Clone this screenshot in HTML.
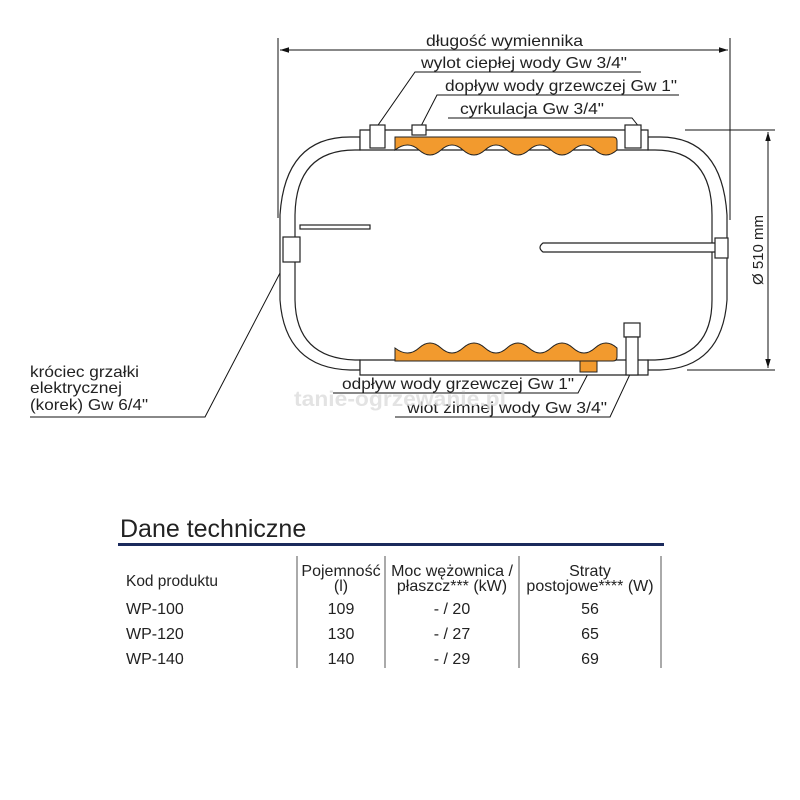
<!DOCTYPE html>
<html><head><meta charset="utf-8"><style>
body{margin:0;background:#fff}
svg{display:block}
text{font-family:"Liberation Sans",sans-serif;fill:#222}
</style></head><body>
<svg width="800" height="800" viewBox="0 0 800 800" xmlns="http://www.w3.org/2000/svg">
<defs>
<marker id="a" viewBox="0 0 10 10" refX="10" refY="5" markerWidth="9" markerHeight="9" orient="auto-start-reverse"><path d="M0,2 L10,5 L0,8z" fill="#111"/></marker>
</defs>
<g stroke="#111" stroke-width="1" fill="none">
<line x1="278" y1="38" x2="278" y2="218"/>
<line x1="730" y1="38" x2="730" y2="220"/>
<line x1="280" y1="50" x2="728" y2="50" marker-start="url(#a)" marker-end="url(#a)"/>
<line x1="685" y1="130" x2="775" y2="130"/>
<line x1="687" y1="370" x2="775" y2="370"/>
<line x1="768" y1="132" x2="768" y2="368" marker-start="url(#a)" marker-end="url(#a)"/>
<polyline points="641,72 415,72 376,128"/>
<polyline points="679,95 437,95 420,128"/>
<polyline points="448,118 632,118 640,128"/>
<polyline points="333,393 578,393 590,370"/>
<polyline points="395,417 610,417 632,370"/>
<polyline points="30,417 205,417 292,250"/>
</g>
<g stroke="#222" stroke-width="1.2" fill="#fff">
<path d="M360,137 L350,137 Q285,137 280,215 L280,300 Q285,368 350,370 L360,370 L360,360 L355,360 Q296,358 295,300 L295,215 Q296,150 355,150 L360,150 Z"/>
<path d="M648,137 L660,137 Q722,137 727,215 L727,300 Q722,368 660,370 L648,370 L648,360 L655,360 Q712,358 712,300 L712,215 Q712,150 655,150 L648,150 Z"/>
<path d="M360,130 L648,130 L648,150 L360,150 Z"/>
<path d="M360,360 L648,360 L648,375 L360,375 Z"/>
<rect x="370" y="125" width="15" height="23"/>
<rect x="625" y="125" width="16" height="23"/>
<rect x="412" y="125" width="14" height="10"/>
<rect x="300" y="225" width="70" height="4"/>
<rect x="283" y="237" width="17" height="25"/>
<path d="M543,243 L716,243 L716,252 L543,252 Q537,247.5 543,243Z"/>
<rect x="715" y="238" width="13" height="20"/>
<rect x="624" y="323" width="16" height="14"/>
<rect x="626" y="337" width="12" height="38"/>
</g>
<path d="M395,137 L613,137 Q617,137 617,141 L617,150 Q606,160 595,150 Q584,140 573,150 Q562,160 551,150 Q540,140 529,150 Q518,160 507,150 Q496,140 485,150 Q474,160 463,150 Q452,140 441,150 Q430,160 419,150 Q408,140 395,150 Z" fill="#f29a2e" stroke="#222" stroke-width="1"/>
<path d="M395,361 L613,361 Q617,361 617,357 L617,348 Q606,338 595,348 Q584,358 573,348 Q562,338 551,348 Q540,358 529,348 Q518,338 507,348 Q496,358 485,348 Q474,338 463,348 Q452,358 441,348 Q430,338 419,348 Q408,358 395,348 Z" fill="#f29a2e" stroke="#222" stroke-width="1"/>
<rect x="580" y="361" width="17" height="11" fill="#f29a2e" stroke="#222"/>
<g font-size="16">
<text x="426" y="46" textLength="157" lengthAdjust="spacingAndGlyphs">długość wymiennika</text>
<text x="421" y="68" textLength="206" lengthAdjust="spacingAndGlyphs">wylot ciepłej wody Gw 3/4"</text>
<text x="445" y="91" textLength="232" lengthAdjust="spacingAndGlyphs">dopływ wody grzewczej Gw 1"</text>
<text x="460" y="114" textLength="144" lengthAdjust="spacingAndGlyphs">cyrkulacja Gw 3/4"</text>
<text x="342" y="389" textLength="232" lengthAdjust="spacingAndGlyphs">odpływ wody grzewczej Gw 1"</text>
<text x="407" y="413" textLength="200" lengthAdjust="spacingAndGlyphs">wlot zimnej wody Gw 3/4"</text>
<text x="30" y="377" textLength="109" lengthAdjust="spacingAndGlyphs">króciec grzałki</text>
<text x="30" y="393" textLength="92" lengthAdjust="spacingAndGlyphs">elektrycznej</text>
<text x="30" y="410" textLength="118" lengthAdjust="spacingAndGlyphs">(korek) Gw 6/4"</text>
<text transform="translate(763,250) rotate(-90)" text-anchor="middle" font-size="15">Ø 510 mm</text>
</g>
<text x="294" y="406" font-size="21" font-weight="bold" textLength="212" lengthAdjust="spacingAndGlyphs" style="fill:#ddd;opacity:.8">tanie-ogrzewanie.pl</text>
<text x="120" y="537" font-size="25">Dane techniczne</text>
<rect x="118" y="543" width="546" height="3" fill="#1b2a5c"/>
<g stroke="#555" stroke-width="1">
<line x1="297" y1="556" x2="297" y2="668"/>
<line x1="385" y1="556" x2="385" y2="668"/>
<line x1="519" y1="556" x2="519" y2="668"/>
<line x1="661" y1="556" x2="661" y2="668"/>
</g>
<g font-size="16">
<text x="126" y="586" textLength="92" lengthAdjust="spacingAndGlyphs">Kod produktu</text>
<text x="341" y="576" text-anchor="middle">Pojemność</text>
<text x="341" y="591" text-anchor="middle">(l)</text>
<text x="452" y="576" text-anchor="middle">Moc wężownica /</text>
<text x="452" y="591" text-anchor="middle">płaszcz*** (kW)</text>
<text x="590" y="576" text-anchor="middle">Straty</text>
<text x="590" y="591" text-anchor="middle">postojowe**** (W)</text>
<text x="126" y="614">WP-100</text>
<text x="126" y="639">WP-120</text>
<text x="126" y="664">WP-140</text>
<text x="341" y="614" text-anchor="middle">109</text>
<text x="341" y="639" text-anchor="middle">130</text>
<text x="341" y="664" text-anchor="middle">140</text>
<text x="452" y="614" text-anchor="middle">- / 20</text>
<text x="452" y="639" text-anchor="middle">- / 27</text>
<text x="452" y="664" text-anchor="middle">- / 29</text>
<text x="590" y="614" text-anchor="middle">56</text>
<text x="590" y="639" text-anchor="middle">65</text>
<text x="590" y="664" text-anchor="middle">69</text>
</g>
</svg>
</body></html>
